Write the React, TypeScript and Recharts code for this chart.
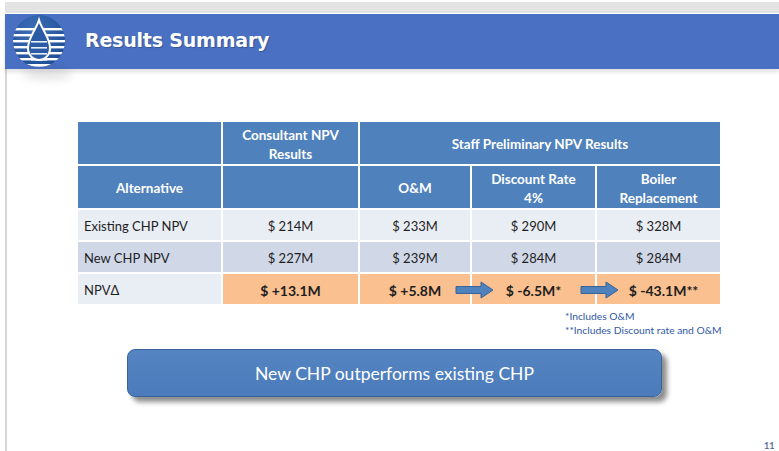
import React from "react"
import { BarChart, Bar, XAxis, YAxis, Cell, LabelList } from "recharts"

// table content
const GROUP_HEADERS = ["", "Consultant NPV\nResults", "Staff Preliminary NPV Results"]
const GROUP_SPANS = [1, 1, 3]
const SUB_HEADERS = ["Alternative", "", "O&M", "Discount Rate\n4%", "Boiler\nReplacement"]
const ROW_LABELS = ["Existing CHP NPV", "New CHP NPV", "NPVΔ"]
const CONSULTANT = ["$ 214M", "$ 227M", "$ +13.1M"]
const STAFF_OM = ["$ 233M", "$ 239M", "$ +5.8M"]
const STAFF_DISCOUNT = ["$ 290M", "$ 284M", "$ -6.5M*"]
const STAFF_BOILER = ["$ 328M", "$ 284M", "$ -43.1M**"]
// delta row: which columns are reached by a step arrow
const DELTA_ARROW_INTO = [false, false, false, true, true]
const FOOTNOTES = ["*Includes O&M", "**Includes Discount rate and O&M"]

// layout
const COL_WIDTHS = [145, 137, 112, 125, 125]
const TOTAL = COL_WIDTHS.reduce((a, b) => a + b, 0)
const HEAD = "#4f81bd"
const LIGHT = "#e9edf4"
const MID = "#d0d8e8"
const ORANGE = "#fac090"
const FONT = "Lato, 'Open Sans', sans-serif"

type Row = { row: string; [k: string]: any }

function groupWidths() {
  const out: number[] = []
  let c = 0
  GROUP_SPANS.forEach((span) => {
    let w = 0
    for (let i = 0; i < span; i++) w += COL_WIDTHS[c + i]
    out.push(w)
    for (let i = 1; i < span; i++) out.push(0)
    c += span
  })
  return out
}

function groupTexts() {
  const out: string[] = []
  GROUP_SPANS.forEach((span, i) => {
    out.push(GROUP_HEADERS[i])
    for (let k = 1; k < span; k++) out.push("")
  })
  return out
}

function makeRow(name: string, widths: number[], texts: string[], fills: string[], kind: string): Row {
  const r: Row = { row: name, kind, fills }
  widths.forEach((w, i) => {
    r["w" + i] = w
    r["t" + i] = texts[i]
  })
  return r
}

const headerData: Row[] = [
  makeRow("group", groupWidths(), groupTexts(), COL_WIDTHS.map(() => HEAD), "head"),
  makeRow("sub", COL_WIDTHS, SUB_HEADERS, COL_WIDTHS.map(() => HEAD), "head"),
]

const bodyData: Row[] = ROW_LABELS.map((label, i) => {
  const isDelta = i === ROW_LABELS.length - 1
  const base = i % 2 === 0 ? LIGHT : MID
  const fills = COL_WIDTHS.map((_, c) => (isDelta && c > 0 ? ORANGE : base))
  return makeRow(
    label,
    COL_WIDTHS,
    [label, CONSULTANT[i], STAFF_OM[i], STAFF_DISCOUNT[i], STAFF_BOILER[i]],
    fills,
    isDelta ? "delta" : "body"
  )
})

function cellLabel(col: number, data: Row[]) {
  return (props: any) => {
    const vb = props.viewBox || props
    const x = vb.x ?? props.x
    const y = vb.y ?? props.y
    const width = vb.width ?? props.width
    const height = vb.height ?? props.height
    const value = props.value
    const row = data[props.index]
    if (!row || !width) return null
    const kind = row.kind
    const out: any[] = []
    if (kind === "delta" && DELTA_ARROW_INTO[col]) {
      const x0 = x - 15
      const cy = y + height / 2 + 1
      const d = `M${x0},${cy - 3.5} L${x0 + 25},${cy - 3.5} L${x0 + 25},${cy - 8} L${x0 + 37},${cy} L${x0 + 25},${cy + 8} L${x0 + 25},${cy + 3.5} L${x0},${cy + 3.5} Z`
      out.push(<path key="arr" d={d} fill="#4f81bd" stroke="#3a6296" strokeWidth={1} />)
    }
    if (value) {
      const lines = String(value).split("\n")
      const lh = 19
      const left = col === 0 && kind !== "head"
      const shift = kind === "delta" && col === 4 ? 5 : 0
      const bold = kind === "head" || (kind === "delta" && col > 0)
      lines.forEach((ln, i) => {
        out.push(
          <text
            key={i}
            x={left ? x + 7 : x + width / 2 + shift}
            y={y + height / 2 + (i - (lines.length - 1) / 2) * lh + 1}
            textAnchor={left ? "start" : "middle"}
            dominantBaseline="central"
            fill={kind === "head" ? "#ffffff" : "#1e1e1e"}
            fontWeight={bold ? 700 : 400}
            fontSize={kind === "head" ? 13.5 : kind === "delta" && col > 0 ? 14 : 13}
            fontFamily={FONT}
          >
            {ln}
          </text>
        )
      })
    }
    return <g>{out}</g>
  }
}

function TablePart({ data, height }: { data: Row[]; height: number }) {
  return (
    <BarChart
      layout="vertical"
      width={TOTAL}
      height={height}
      data={data}
      margin={{ top: 0, right: 0, bottom: 0, left: 0 }}
      barCategoryGap={0}
    >
      <XAxis type="number" hide domain={[0, TOTAL]} allowDataOverflow />
      <YAxis type="category" dataKey="row" hide />
      {COL_WIDTHS.map((_, c) => (
        <Bar
          key={c}
          dataKey={"w" + c}
          stackId="t"
          isAnimationActive={false}
          stroke="#ffffff"
          strokeWidth={2}
        >
          {data.map((r, i) => (
            <Cell key={i} fill={r.fills[c]} />
          ))}
          <LabelList dataKey={"t" + c} content={cellLabel(c, data)} />
        </Bar>
      ))}
    </BarChart>
  )
}

function Logo() {
  const stripes = [22, 28, 34, 40, 46, 52, 58]
  return (
    <svg width={70} height={70} style={{ position: "absolute", left: 4, top: 6 }}>
      <defs>
        <clipPath id="lg">
          <circle cx={35} cy={35} r={26} />
        </clipPath>
        <radialGradient id="lgf" cx="40%" cy="30%" r="70%">
          <stop offset="0%" stopColor="#3f6fb8" />
          <stop offset="100%" stopColor="#1f4f96" />
        </radialGradient>
      </defs>
      <circle cx={35} cy={35} r={26} fill="url(#lgf)" />
      <g clipPath="url(#lg)">
        {stripes.map((s) => (
          <rect key={s} x={0} y={s} width={70} height={2.4} fill="#ffffff" />
        ))}
      </g>
      <path
        d="M35,14 C38,24 46,32 46,42 C46,49 41,54 35,54 C29,54 24,49 24,42 C24,32 32,24 35,14 Z"
        fill="#2a5ba4"
        stroke="#ffffff"
        strokeWidth={2}
      />
      <g clipPath="url(#lg)">
        {stripes.slice(2).map((s) => (
          <rect key={s} x={27} y={s + 1} width={16} height={1.6} fill="#ffffff" opacity={0.9} />
        ))}
      </g>
    </svg>
  )
}

export default function App() {
  return (
    <div
      style={{
        position: "absolute",
        left: 0,
        top: 0,
        width: 779,
        height: 451,
        background: "#ffffff",
        overflow: "hidden",
        fontFamily: FONT,
      }}
    >
      <div style={{ position: "absolute", left: 5, top: 2, width: 774, height: 11, background: "#e3e3e3" }} />
      <div style={{ position: "absolute", left: 5, top: 69, width: 1.5, height: 382, background: "#d6d6d6" }} />
      <div
        style={{
          position: "absolute",
          left: 5,
          top: 14,
          width: 774,
          height: 55,
          background: "#4a70c4",
          boxShadow: "0 3px 4px rgba(0,0,0,0.12)",
        }}
      />
      <div
        style={{
          position: "absolute",
          left: 22,
          top: 68,
          width: 50,
          height: 12,
          borderRadius: "50%",
          background: "rgba(0,0,0,0.10)",
          filter: "blur(4px)",
        }}
      />
      <Logo />
      <div
        style={{
          position: "absolute",
          left: 85,
          top: 29,
          color: "#ffffff",
          fontFamily: "'DejaVu Sans', sans-serif",
          fontWeight: 700,
          fontSize: 19,
          letterSpacing: -0.2,
          textShadow: "1px 1px 1px rgba(0,0,0,0.25)",
        }}
      >
        Results Summary
      </div>

      <div style={{ position: "absolute", left: 77, top: 121 }}>
        <TablePart data={headerData} height={88} />
      </div>
      <div style={{ position: "absolute", left: 77, top: 209 }}>
        <TablePart data={bodyData} height={96} />
      </div>

      {FOOTNOTES.map((f, i) => (
        <div
          key={i}
          style={{
            position: "absolute",
            left: 565,
            top: 310 + i * 14,
            fontSize: 10.3,
            color: "#2f58a6",
            whiteSpace: "nowrap",
          }}
        >
          {f}
        </div>
      ))}

      <div
        style={{
          position: "absolute",
          left: 127,
          top: 349,
          width: 535,
          height: 48,
          boxSizing: "border-box",
          borderRadius: 8,
          background: "linear-gradient(#5584c2, #4c7bbb)",
          border: "1.5px solid #3a639b",
          boxShadow: "5px 5px 5px rgba(0,0,0,0.45)",
          color: "#ffffff",
          fontSize: 17.5,
          display: "flex",
          alignItems: "center",
          justifyContent: "center",
        }}
      >
        New CHP outperforms existing CHP
      </div>

      <div
        style={{
          position: "absolute",
          left: 764,
          top: 440,
          fontSize: 9,
          fontWeight: 700,
          color: "#5b6e9c",
        }}
      >
        11
      </div>
    </div>
  )
}
